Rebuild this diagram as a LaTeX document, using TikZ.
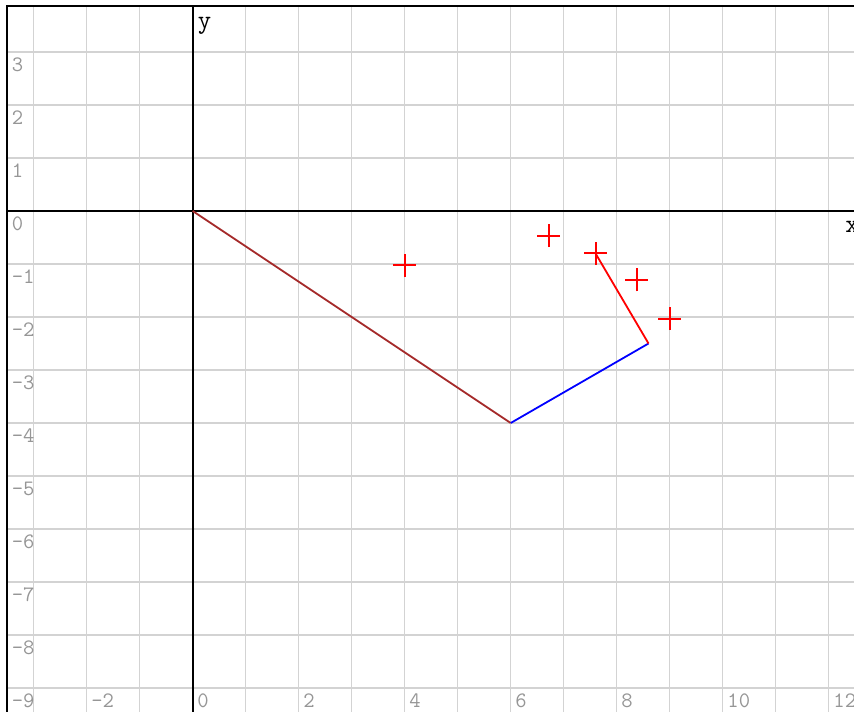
\documentclass[tikz,border=0pt]{standalone}
\usepackage{fontspec}
\definecolor{gridgray}{RGB}{211,211,211}
\definecolor{tickgray}{RGB}{150,150,150}
\definecolor{linebrown}{RGB}{165,42,42}
\begin{document}
\begin{tikzpicture}[x=53pt,y=53pt,
  gridline/.style={draw=gridgray, line width=1.5pt},
  axisline/.style={draw=black, line width=1.8pt},
  frameline/.style={draw=black, line width=2pt},
  ticklabel/.style={font=\ttfamily\fontsize{22}{22}\selectfont, text=tickgray, anchor=base west, inner sep=0pt},
  axislabel/.style={font=\ttfamily\fontsize{26}{26}\selectfont, text=black, anchor=base west, inner sep=0pt},
  crossmark/.style={draw=red, line width=2pt},
  seg/.style={line width=1.8pt}]
\useasboundingbox (-3.636,-9.434) rectangle (12.477,3.981);
\fill[white] (-3.636,-9.434) rectangle (12.477,3.981);
\begin{scope}
\clip (-3.636,-9.434) rectangle (12.477,3.981);
% grid
\foreach \i in {-3,...,12} \draw[gridline] (\i,3.875) -- (\i,-9.6);
\foreach \j in {-9,...,3} \draw[gridline] (-3.5,\j) -- (12.6,\j);
% axes
\draw[axisline] (-3.5,0) -- (12.6,0);
\draw[axisline] (0,3.875) -- (0,-9.6);
% frame
\draw[frameline] (12.6,3.875) -- (-3.5,3.875) -- (-3.5,-9.6);
% tick labels
\foreach \j in {3,...,-9} \node[ticklabel] (ty\j) at ([xshift=4.5pt,yshift=-19.5pt]-3.5,\j) {\j};
\foreach \i in {-2,0,...,12} \node[ticklabel] (tx\i) at ([xshift=4.5pt,yshift=-19pt]\i,-9) {\i};
% axis labels
\node[axislabel] (ylab) at ([xshift=5pt]0,3.434) {y};
\node[axislabel] (xlab) at (12.31,-0.415) {x};
% points
\coordinate (O) at (0,0);
\coordinate (A) at (6,-4);
\coordinate (B) at (8.6,-2.5);
\coordinate (pa) at (4,-1.02);
\coordinate (pb) at (6.72,-0.466);
\coordinate (pc) at (7.6,-0.8);
\coordinate (pd) at (8.38,-1.30);
\coordinate (pe) at (9.0,-2.03);
\draw[seg, draw=linebrown] (O) -- (A);
\draw[seg, draw=blue] (A) -- (B);
\draw[seg, draw=red] (B) -- (pc);
\draw[crossmark] ([xshift=-11.5pt]pa) -- ([xshift=11.5pt]pa) ([yshift=-11.5pt]pa) -- ([yshift=11.5pt]pa);
\draw[crossmark] ([xshift=-11.5pt]pb) -- ([xshift=11.5pt]pb) ([yshift=-11.5pt]pb) -- ([yshift=11.5pt]pb);
\draw[crossmark] ([xshift=-11.5pt]pc) -- ([xshift=11.5pt]pc) ([yshift=-11.5pt]pc) -- ([yshift=11.5pt]pc);
\draw[crossmark] ([xshift=-11.5pt]pd) -- ([xshift=11.5pt]pd) ([yshift=-11.5pt]pd) -- ([yshift=11.5pt]pd);
\draw[crossmark] ([xshift=-11.5pt]pe) -- ([xshift=11.5pt]pe) ([yshift=-11.5pt]pe) -- ([yshift=11.5pt]pe);
\end{scope}
\end{tikzpicture}
\end{document}
